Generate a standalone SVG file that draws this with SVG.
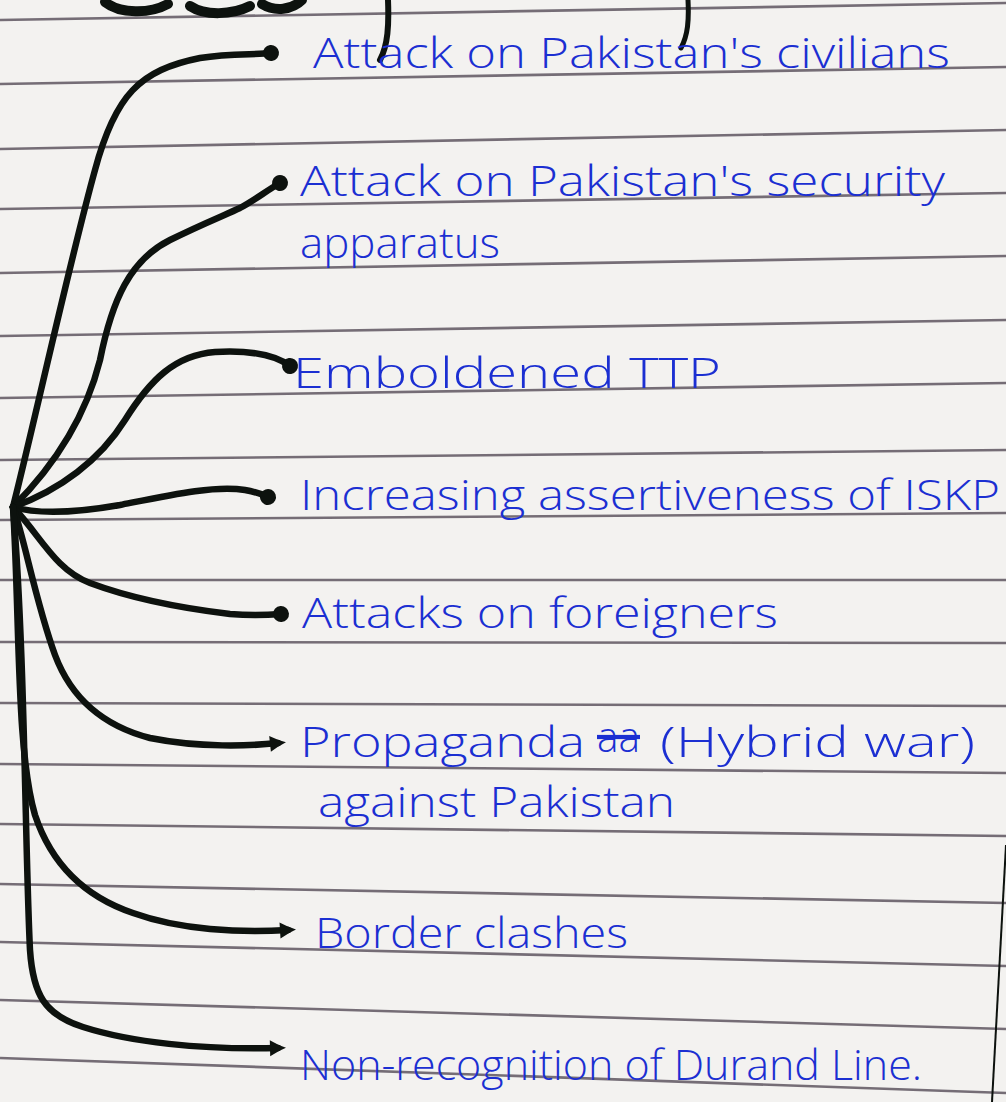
<svg xmlns="http://www.w3.org/2000/svg" width="1006" height="1102" viewBox="0 0 1006 1102">
<style>
.rule{stroke:#5e5660;stroke-width:2.6;opacity:.85;fill:none}
.conn{stroke:#0d120e;stroke-width:6.5;fill:none;stroke-linecap:round;stroke-linejoin:round}
.ink{stroke:#0d120e;fill:none;stroke-linecap:round;stroke-linejoin:round}
.lbl{font-family:"Open Sans","Liberation Sans",sans-serif;font-weight:300;font-size:42px;fill:#1b2fd2}
.strike{text-decoration:line-through}
</style>
<defs>
<marker id="dot" markerUnits="userSpaceOnUse" markerWidth="20" markerHeight="20" refX="10" refY="10" orient="auto"><circle cx="10" cy="10" r="8" fill="#0d120e"/></marker>
<marker id="head" markerUnits="userSpaceOnUse" markerWidth="24" markerHeight="24" refX="12" refY="12" orient="auto"><path d="M4,4 Q12,9 20,12 Q12,15 4,20 Z" fill="#0d120e"/></marker>
</defs>
<rect width="1006" height="1102" fill="#f3f2f0"/>
<g id="ruled-paper">
<line class="rule" x1="0" y1="20" x2="1006" y2="3"/>
<line class="rule" x1="0" y1="84" x2="1006" y2="67"/>
<line class="rule" x1="0" y1="149" x2="1006" y2="130"/>
<line class="rule" x1="0" y1="209" x2="1006" y2="193"/>
<line class="rule" x1="0" y1="273" x2="1006" y2="256"/>
<line class="rule" x1="0" y1="336" x2="1006" y2="320"/>
<line class="rule" x1="0" y1="398" x2="1006" y2="383"/>
<line class="rule" x1="0" y1="460" x2="1006" y2="450"/>
<line class="rule" x1="0" y1="520" x2="1006" y2="513"/>
<line class="rule" x1="0" y1="580" x2="1006" y2="580"/>
<line class="rule" x1="0" y1="642" x2="1006" y2="643"/>
<line class="rule" x1="0" y1="703" x2="1006" y2="706"/>
<line class="rule" x1="0" y1="764" x2="1006" y2="773"/>
<line class="rule" x1="0" y1="824" x2="1006" y2="836"/>
<line class="rule" x1="0" y1="884" x2="1006" y2="903"/>
<line class="rule" x1="0" y1="942" x2="1006" y2="966"/>
<line class="rule" x1="0" y1="1000" x2="1006" y2="1029"/>
<line class="rule" x1="0" y1="1058" x2="1006" y2="1093"/>
<line x1="1006" y1="845" x2="992" y2="1102" stroke="#0d120e" stroke-width="2"/>
</g>
<g id="title-fragment">
<path class="ink" stroke-width="10" d="M105,2 C120,14 150,14 168,4 M190,6 C205,16 232,15 250,6 M262,4 C275,12 292,10 302,0"/>
<path class="ink" stroke-width="6" d="M388,0 C389,25 388,45 380,60"/>
<path class="ink" stroke-width="5" d="M688,0 C689,20 688,35 681,48"/>
</g>
<g id="connectors">
<path class="conn" marker-end="url(#dot)" d="M13,507 C35,420 70,260 95,170 C115,95 140,70 200,58 C230,53 255,55 271,53"/>
<path class="conn" marker-end="url(#dot)" d="M13,507 C50,470 85,420 100,360 C112,300 130,260 170,240 C200,225 225,215 240,208 C255,200 266,191 280,183"/>
<path class="conn" marker-end="url(#dot)" d="M13,507 C60,490 100,460 125,420 C150,380 175,355 215,352 C250,350 275,355 290,366"/>
<path class="conn" marker-end="url(#dot)" d="M13,507 C40,515 80,512 120,505 C170,495 215,485 245,490 C256,492 262,494 268,497"/>
<path class="conn" marker-end="url(#dot)" d="M13,507 C40,535 55,570 90,583 C130,598 180,608 230,614 C255,616 268,615 281,614"/>
<path class="conn" marker-end="url(#head)" d="M13,507 C25,540 35,600 55,655 C70,695 100,725 150,738 C200,748 250,746 278,743"/>
<path class="conn" marker-end="url(#head)" d="M13,507 C20,620 16,750 35,815 C50,860 80,895 133,913 C180,930 240,933 288,930"/>
<path class="conn" marker-end="url(#head)" d="M13,507 C25,650 25,850 30,950 C33,995 45,1015 83,1027 C130,1042 200,1050 278,1048"/>
</g>
<g id="node-civilians"><text class="lbl" x="313" y="68" textLength="637" lengthAdjust="spacingAndGlyphs">Attack on Pakistan's civilians</text></g>
<g id="node-security">
<text class="lbl" x="300" y="196" textLength="645" lengthAdjust="spacingAndGlyphs">Attack on Pakistan's security</text>
<text class="lbl" x="300" y="258" textLength="200" lengthAdjust="spacingAndGlyphs">apparatus</text>
</g>
<g id="node-ttp"><text class="lbl" x="293" y="388" textLength="428" lengthAdjust="spacingAndGlyphs">Emboldened TTP</text></g>
<g id="node-iskp"><text class="lbl" x="300" y="510" textLength="700" lengthAdjust="spacingAndGlyphs">Increasing assertiveness of ISKP</text></g>
<g id="node-foreigners"><text class="lbl" x="302" y="628" textLength="476" lengthAdjust="spacingAndGlyphs">Attacks on foreigners</text></g>
<g id="node-propaganda">
<text class="lbl" x="300" y="757" textLength="285" lengthAdjust="spacingAndGlyphs">Propaganda</text>
<text class="lbl strike" x="597" y="752" font-size="26" textLength="43" lengthAdjust="spacingAndGlyphs">aa</text>
<text class="lbl" x="660" y="757" textLength="315" lengthAdjust="spacingAndGlyphs">(Hybrid war)</text>
<text class="lbl" x="318" y="817" textLength="357" lengthAdjust="spacingAndGlyphs">against Pakistan</text>
</g>
<g id="node-border"><text class="lbl" x="315" y="948" textLength="313" lengthAdjust="spacingAndGlyphs">Border clashes</text></g>
<g id="node-durand"><text class="lbl" x="300" y="1080" textLength="622" lengthAdjust="spacingAndGlyphs">Non-recognition of Durand Line.</text></g>
</svg>
